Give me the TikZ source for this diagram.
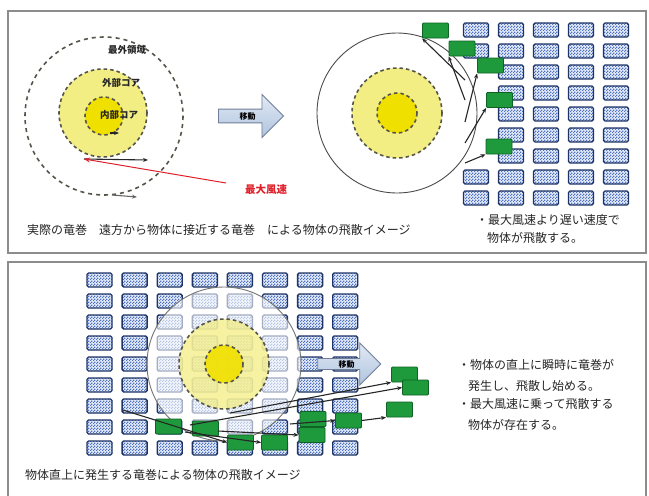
\documentclass[tikz,border=0pt]{standalone}
\usepackage{fontspec}
\setmainfont{Noto Sans CJK JP}
\usetikzlibrary{shapes.arrows,patterns,arrows.meta}
\definecolor{boxbg}{HTML}{E6EDFA}
\definecolor{boxdot}{HTML}{4F72C0}
\definecolor{boxline}{HTML}{1F3466}
\definecolor{grn}{HTML}{1E9A3C}
\definecolor{grnline}{HTML}{0E6424}
\definecolor{ylight}{HTML}{F3EE84}
\definecolor{ystrong}{HTML}{F0E000}
\definecolor{dashc}{HTML}{55554A}
\definecolor{panel}{HTML}{8C8C8C}
\definecolor{arrtop}{HTML}{E2EAF5}
\definecolor{arrbot}{HTML}{AFC3DE}
\definecolor{arrline}{HTML}{6F7F99}
\definecolor{redc}{HTML}{E0202A}
\pgfdeclarepatternformonly{finecheck}{\pgfpointorigin}{\pgfpoint{3pt}{3pt}}{\pgfpoint{3pt}{3pt}}{%
  \pgfpathrectangle{\pgfpointorigin}{\pgfpoint{1.5pt}{1.5pt}}%
  \pgfpathrectangle{\pgfpoint{1.5pt}{1.5pt}}{\pgfpoint{1.5pt}{1.5pt}}%
  \pgfusepath{fill}}
\tikzset{
  bx/.style={draw=boxline, line width=1.4pt, rounded corners=1.5pt, minimum width=25pt,
    minimum height=14pt, inner sep=0pt, preaction={fill=boxbg}, pattern=finecheck,
    pattern color=boxdot},
  gb/.style={draw=grnline, fill=grn, line width=0.8pt, rounded corners=1pt,
    minimum width=26pt, minimum height=15pt, inner sep=0pt},
  fly/.style={draw=black!85, line width=1.1pt, -{Stealth[length=5pt,width=4pt]}},
  ring/.style={draw=dashc, line width=1.6pt, dash pattern=on 3.5pt off 3pt},
  movearrow/.style={single arrow, draw=arrline, line width=0.8pt, top color=arrtop,
    bottom color=arrbot, single arrow tip angle=90, inner sep=0pt,
    font=\fontsize{8}{9}\selectfont\bfseries},
  txt/.style={font=\fontsize{12}{14}\selectfont, inner sep=0pt, text=black!85},
  lbl/.style={font=\fontsize{9.5}{10}\selectfont\bfseries, inner sep=0pt, text=black!85},
  pnl/.style={draw=panel, line width=1.5pt}
}
\begin{document}
\begin{tikzpicture}[x=1pt,y=-1pt]
\fill[white] (0,0) rectangle (649,496);
\useasboundingbox (0,0) rectangle (649,496);
% panels
\draw[pnl] (8,11) rectangle (646,253);
\draw[pnl] (8,262) rectangle (646,500);

% ---------- top left ----------
\draw[ring, dash pattern=on 4pt off 4pt] (104,116) circle (79);
\fill[ylight] (103,113) circle (44);
\draw[ring] (103,113) circle (44);
\fill[ystrong] (104,116) circle (19);
\draw[ring] (104,116) circle (19);
\node[lbl] (lout) at (127,50) {最外領域};
\node[lbl] (lext) at (121,83) {外部コア};
\node[lbl] (lint) at (119,115) {内部コア};
\coordinate (p0) at (84,159);
\coordinate (p1) at (148,160);
\coordinate (q0) at (110,133);
\coordinate (q1) at (119,133);
\coordinate (r0) at (112,195);
\coordinate (r1) at (137,197);
\coordinate (red0) at (226,183);
\draw[fly] (q0) -- (q1);
\draw[fly] (p0) -- (p1);
\draw[fly, draw=black!60] (r0) -- (r1);
\draw[draw=redc, line width=1pt, -{Stealth[length=6pt,width=5pt]}] (red0) -- (p0);
\node[txt, text=redc, font=\fontsize{10.5}{11}\selectfont\bfseries] (lmax) at (266,190) {最大風速};
\node[movearrow, minimum height=65pt, minimum width=43pt, single arrow head extend=9pt] (mv1) at (247.5,116) {移動};

% ---------- top right ----------
\draw[black!70, line width=0.9pt, fill=white] (397,113) circle (80);
\fill[ylight] (397,113) circle (45);
\draw[ring] (397,113) circle (45);
\fill[ystrong] (397,113) circle (20);
\draw[ring] (397,113) circle (20);
\foreach \j in {0,...,8}{
  \foreach \i in {1,...,4}{
    \node[bx] (t-\j-\i) at ({476+35*\i},{30+21*\j}) {};
  }
}
\foreach \j in {0,1,7,8}{
  \node[bx] (t-\j-0) at (476,{30+21*\j}) {};
}
\node[gb] (g1) at (435.5,30.5) {};
\node[gb] (g2) at (462,48.5) {};
\node[gb] (g3) at (490.5,65.5) {};
\node[gb] (g4) at (499.5,100) {};
\node[gb] (g5) at (499,146.5) {};
\coordinate (s1) at (465,80);
\coordinate (s2) at (465,100);
\coordinate (s3) at (465,122);
\coordinate (s4) at (465,143);
\coordinate (s5) at (465,163);
\draw[fly] (s1) -- (g1.south west);
\draw[fly] (s2) -- (g2.south west);
\draw[fly] (s3) -- (g3.south west);
\draw[fly] (s4) -- (g4.south west);
\draw[fly] (s5) -- (g5.south west);

\node[txt, anchor=west] (cap1) at (27,230) {実際の竜巻　遠方から物体に接近する竜巻　による物体の飛散イメージ};
\node[txt, anchor=west] (n1a) at (476,220) {・最大風速より遅い速度で};
\node[txt, anchor=west] (n1b) at (487,238) {物体が飛散する。};

% ---------- bottom ----------
\foreach \j in {0,...,8}{
  \foreach \i in {0,...,7}{
    \node[bx] (b-\j-\i) at ({99.5+35.1*\i},{280+21*\j}) {};
  }
}
\fill[white, fill opacity=0.6] (224,364) circle (77);
\draw[black!55, line width=0.9pt] (224,364) circle (77);
\fill[ylight, fill opacity=0.75] (224,364) circle (45);
\draw[ring] (224,364) circle (45);
\fill[ystrong, fill opacity=0.9] (224,364) circle (19);
\draw[ring] (224,364) circle (19);
\node[movearrow, minimum height=63pt, minimum width=42pt, single arrow head extend=12pt] (mv2) at (346.5,364) {移動};

\node[gb] (h1) at (168.5,426.5) {};
\node[gb] (h2) at (205.5,428.5) {};
\node[gb] (h3) at (240.5,442.5) {};
\node[gb] (h4) at (274.5,442.5) {};
\node[gb] (h5) at (313,419) {};
\node[gb] (h6) at (312,435) {};
\node[gb] (h7) at (348.5,420.5) {};
\node[gb] (h8) at (404.5,374.5) {};
\node[gb] (h9) at (415.5,387.5) {};
\node[gb] (h10) at (399.5,409.5) {};
\coordinate (u1) at (123,410);
\coordinate (u2) at (185,432);
\coordinate (u3) at (230,413);
\coordinate (u4) at (190,425);
\coordinate (u5) at (218,431);
\coordinate (u6) at (290,424);
\draw[fly] (u1) -- (h3.west);
\draw[fly] (u2) -- (h4.west);
\draw[fly] (u3) -- (h8.south west);
\draw[fly] (u4) -- (h9.west);
\draw[fly] (u5) -- (h6.west);
\draw[fly] (u6) -- (h7.west);
\draw[fly] (h7.east) -- (h10.south west);

\node[txt, anchor=west] (cap2) at (25,475) {物体直上に発生する竜巻による物体の飛散イメージ};
\node[txt, anchor=west] (n2a) at (458,365) {・物体の直上に瞬時に竜巻が};
\node[txt, anchor=west] (n2b) at (468,386) {発生し、飛散し始める。};
\node[txt, anchor=west] (n2c) at (458,404) {・最大風速に乗って飛散する};
\node[txt, anchor=west] (n2d) at (468,425) {物体が存在する。};
\end{tikzpicture}
\end{document}
